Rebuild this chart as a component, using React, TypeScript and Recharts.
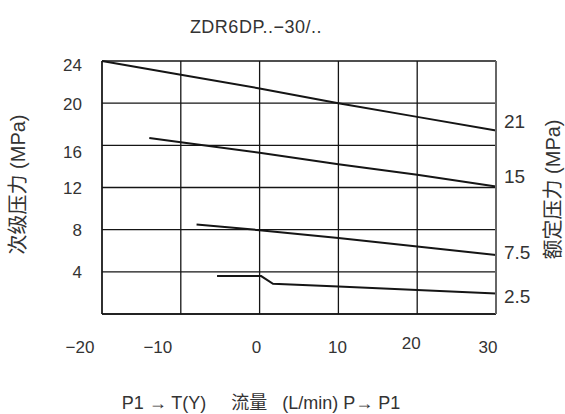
import React from "react";
import { LineChart, Line, XAxis, YAxis, CartesianGrid, LabelList, Label } from "recharts";

// ---- data ----
const chartTitle = "ZDR6DP..\u221230/..";
const xTitle = "P1 \u2192 T(Y)\u00a0\u00a0\u00a0\u00a0\u00a0\u6d41\u91cf\u00a0\u00a0\u00a0(L/min) P\u2192 P1";
const yTitleLeft = "\u6b21\u7ea7\u538b\u529b (MPa)";
const yTitleRight = "\u989d\u5b9a\u538b\u529b (MPa)";

const xTicks = [-20, -10, 0, 10, 20, 30];
const yTicks = [0, 4, 8, 12, 16, 20, 24];

const flow21 = [-20, -10, 0, 10, 20, 30];
const pres21 = [24, 22.7, 21.4, 20, 18.7, 17.4];
const flow15 = [-14, -10, 0, 10, 20, 30];
const pres15 = [16.7, 16.3, 15.3, 14.2, 13.2, 12.1];
const flow75 = [-8, 0, 10, 20, 30];
const pres75 = [8.5, 7.95, 7.2, 6.4, 5.6];
const flow25 = [-5.4, 0.2, 1.7, 10, 20, 30];
const pres25 = [3.6, 3.6, 2.87, 2.6, 2.28, 1.95];

const seriesNames = ["21", "15", "7.5", "2.5"];

const toRows = (xs: number[], ys: number[]) => xs.map((x, i) => ({ x, y: ys[i] }));
const series = [
  { name: seriesNames[0], data: toRows(flow21, pres21), labelDy: -10 },
  { name: seriesNames[1], data: toRows(flow15, pres15), labelDy: -10 },
  { name: seriesNames[2], data: toRows(flow75, pres75), labelDy: -3 },
  { name: seriesNames[3], data: toRows(flow25, pres25), labelDy: 3 },
];

// ---- styles ----
const FONT = "'Liberation Sans', Arial, 'Noto Sans CJK SC', sans-serif";
const TXT = "#333";
const INK = "#151515";

const xNudge: Record<string, [number, number]> = {
  "-20": [-22, 0],
  "-10": [-23, 0],
  "0": [-3, 0],
  "10": [-1, 0],
  "20": [-6, -4],
  "30": [-8, 0],
};
const yNudge: Record<string, number> = { "24": 3, "16": 6 };

const XTick = (p: any) => {
  const v = String(p.payload.value);
  const [dx, dy] = xNudge[v] || [0, 0];
  const label = p.payload.value < 0 ? "\u2212" + Math.abs(p.payload.value) : v;
  return (
    <text x={p.x + dx} y={p.y + dy + 13} textAnchor="middle" fontFamily={FONT} fontSize={17} fill={TXT}>
      {label}
    </text>
  );
};

const YTick = (p: any) => {
  const v = p.payload.value;
  if (v === 0) return null;
  const dy = yNudge[String(v)] || 0;
  return (
    <text x={p.x} y={p.y + dy + 6.5} textAnchor="end" fontFamily={FONT} fontSize={17} fill={TXT}>
      {v}
    </text>
  );
};

const makeEndLabel = (name: string, n: number, dy: number) => (p: any) => {
  if (p.index !== n - 1) return null;
  return (
    <text x={p.x + 8} y={p.y + dy + 7} textAnchor="start" fontFamily={FONT} fontSize={19} fill={TXT}>
      {name}
    </text>
  );
};

const LeftTitle = (p: any) => {
  const vb = p.viewBox;
  const cx = vb.x + 18;
  const cy = vb.y + vb.height / 2 - 3;
  return (
    <text x={cx} y={cy} transform={`rotate(-90, ${cx}, ${cy})`} textAnchor="middle" dominantBaseline="central"
      fontFamily={FONT} fontSize={20} fill={TXT}>
      {yTitleLeft}
    </text>
  );
};

const RightTitle = (p: any) => {
  const vb = p.viewBox;
  const cx = vb.x + 57;
  const cy = vb.y + vb.height / 2 + 2;
  return (
    <text x={cx} y={cy} transform={`rotate(-90, ${cx}, ${cy})`} textAnchor="middle" dominantBaseline="central"
      fontFamily={FONT} fontSize={20} fill={TXT}>
      {yTitleRight}
    </text>
  );
};

const BottomTitle = (p: any) => {
  const vb = p.viewBox;
  return (
    <text x={vb.x + vb.width / 2 - 38} y={vb.y + 95} textAnchor="middle" fontFamily={FONT} fontSize={18} fill={TXT}>
      {xTitle}
    </text>
  );
};

export default function App() {
  return (
    <div style={{ position: "absolute", left: 0, top: 0, width: 565, height: 414, background: "#fff" }}>
      <div
        style={{
          position: "absolute",
          left: 0,
          width: 512,
          top: 17,
          textAlign: "center",
          fontFamily: FONT,
          fontSize: 18,
          color: TXT,
          letterSpacing: 0.5,
          lineHeight: "20px",
        }}
      >
        {chartTitle}
      </div>
      <LineChart width={565} height={414} margin={{ top: 61, right: 0, bottom: 0, left: 0 }}>
        <CartesianGrid yAxisId="left" stroke={INK} strokeWidth={1.3} />
        <XAxis
          dataKey="x"
          type="number"
          domain={[-20, 30]}
          ticks={xTicks}
          allowDuplicatedCategory={false}
          height={100}
          tickSize={0}
          tickMargin={26}
          tickLine={false}
          axisLine={{ stroke: INK, strokeWidth: 1.3 }}
          tick={<XTick />}
        >
          <Label content={<BottomTitle />} position="insideBottom" />
        </XAxis>
        <YAxis
          yAxisId="left"
          type="number"
          domain={[0, 24]}
          ticks={yTicks}
          width={102}
          tickSize={0}
          tickMargin={20}
          tickLine={false}
          axisLine={{ stroke: INK, strokeWidth: 1.3 }}
          tick={<YTick />}
        >
          <Label content={<LeftTitle />} position="insideLeft" />
        </YAxis>
        <YAxis
          yAxisId="right"
          orientation="right"
          type="number"
          domain={[0, 24]}
          width={69}
          tick={false}
          tickLine={false}
          axisLine={{ stroke: "#666", strokeWidth: 2 }}
        >
          <Label content={<RightTitle />} position="insideRight" />
        </YAxis>
        {series.map((s) => (
          <Line
            key={s.name}
            yAxisId="left"
            data={s.data}
            dataKey="y"
            type="linear"
            stroke={INK}
            strokeWidth={2}
            dot={false}
            activeDot={false}
            isAnimationActive={false}
          >
            <LabelList dataKey="y" content={makeEndLabel(s.name, s.data.length, s.labelDy)} />
          </Line>
        ))}
      </LineChart>
    </div>
  );
}
